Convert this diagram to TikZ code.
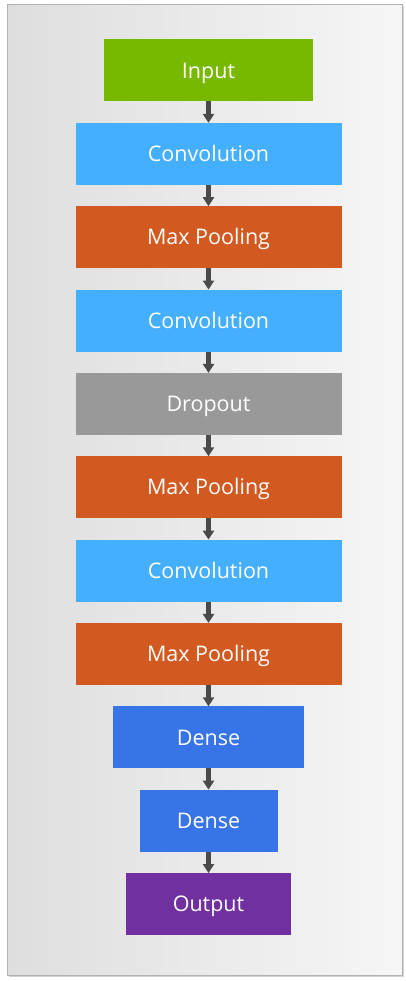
\documentclass[tikz,border=0pt]{standalone}
\usepackage{fontspec}
\setsansfont{Open Sans}
\usetikzlibrary{positioning,arrows.meta,shadows}
\definecolor{inputgreen}{HTML}{76B900}
\definecolor{convblue}{HTML}{45AFFF}
\definecolor{poolorange}{HTML}{D2591F}
\definecolor{dropgray}{HTML}{999999}
\definecolor{denseblue}{HTML}{3674E8}
\definecolor{outpurple}{HTML}{70309F}
\definecolor{arrowgray}{HTML}{4A4A4A}
\definecolor{bgleft}{HTML}{DEDEDE}
\definecolor{bgright}{HTML}{F6F6F6}
\tikzset{
  layer/.style = {rectangle, inner sep=0pt, outer sep=0pt, minimum height=62pt,
    text height=15.4pt, text depth=0pt,
    text=white, font=\sffamily\fontsize{21.5}{26}\selectfont},
  lay_in/.style = {layer, fill=inputgreen, minimum width=209pt},% entree
  lay_conv/.style = {layer, fill=convblue, minimum width=266pt},% convolution
  lay_pool/.style = {layer, fill=poolorange, minimum width=266pt},% max pooling
  lay_drop/.style = {layer, fill=dropgray, minimum width=266pt},% dropout
  lay_dense/.style = {layer, fill=denseblue},% dense
  lay_out/.style = {layer, fill=outpurple, minimum width=165pt},% sortie
  flow/.style = {->, draw=arrowgray, line width=4.3pt}
}

\begin{document}
\begin{tikzpicture}[x=1pt, y=-1pt, node distance=21.35pt,
  >={Triangle[width=11pt, length=9pt]}]
\useasboundingbox (0,0) rectangle (406,981);
\shade[left color=bgleft, right color=bgright, draw=black!30, line width=1pt,
  drop shadow={shadow xshift=1.5pt, shadow yshift=-1.5pt, opacity=0.35}]
  (7,5) rectangle (402,975);
\node [lay_in] (in) at (208.5,70.5) {Input};
\node [lay_conv, below=of in] (conv1) {Convolution};
\node [lay_pool, below=of conv1] (pool1) {Max Pooling};
\node [lay_conv, below=of pool1] (conv2) {Convolution};
\node [lay_drop, below=of conv2] (drop) {Dropout};
\node [lay_pool, below=of drop] (pool2) {Max Pooling};
\node [lay_conv, below=of pool2] (conv3) {Convolution};
\node [lay_pool, below=of conv3] (pool3) {Max Pooling};
\node [lay_dense, minimum width=191pt, below=of pool3] (dense1) {Dense};
\node [lay_dense, minimum width=138pt, below=of dense1] (dense2) {Dense};
\node [lay_out, below=of dense2] (out) {Output};
\foreach \a/\b in {in/conv1, conv1/pool1, pool1/conv2, conv2/drop,
  drop/pool2, pool2/conv3, conv3/pool3, pool3/dense1, dense1/dense2,
  dense2/out}
  \draw [flow] (\a) -- (\b);
\end{tikzpicture}
\end{document}
